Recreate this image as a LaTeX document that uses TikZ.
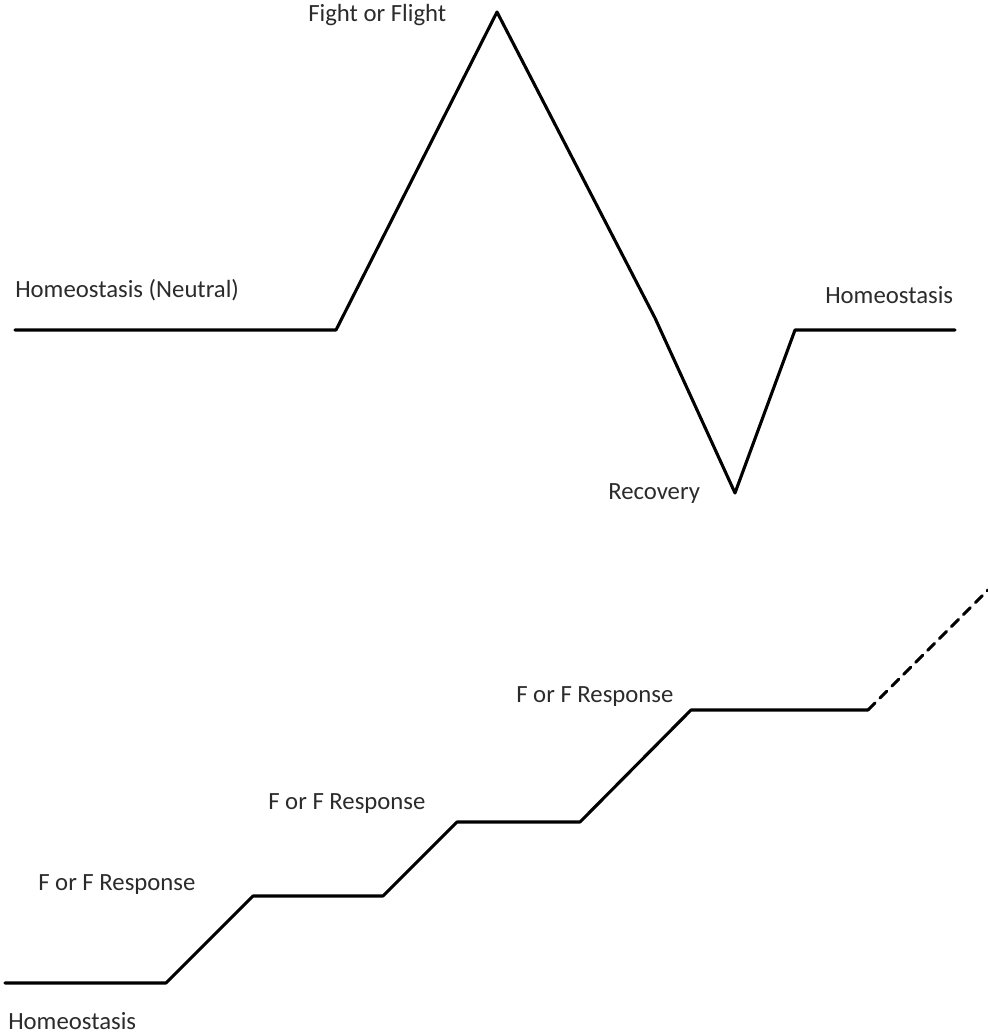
\documentclass[tikz,border=0pt]{standalone}
\usepackage{fontspec}
\setmainfont{Carlito}
\usetikzlibrary{positioning}
\definecolor{grInk}{HTML}{000000}
\definecolor{grText}{HTML}{2B2B2B}
\tikzset{
 stress/.style={font=\fontsize{17.6}{21}\selectfont,line cap=round,line join=round,text=grText},
 level/.style={draw=grInk,line width=2.2pt},
 trend/.style={draw=grInk,line width=2.2pt,dash pattern=on 7pt off 5pt},
 tag/.style={anchor=west,inner sep=0pt}
}

\begin{document}
\begin{tikzpicture}[stress,x=0.25mm,y=-0.25mm]
 \useasboundingbox (0,0) rectangle (988,1036);
 % single stress event
 \coordinate (h0) at (15,330);   \coordinate (h1) at (336,330);
 \coordinate (peak) at (497,12); \coordinate (mid) at (655,318);
 \coordinate (low) at (735,493); \coordinate (h2) at (795,330);
 \coordinate (h3) at (955,330);
 \draw[level] (h0)--(h1)--(peak)--(mid)--(low)--(h2)--(h3);
 \node[tag] (fight) at (308,15) {Fight or Flight};
 \node[tag] (neutral) at (15,290) {Homeostasis (Neutral)};
 \node[tag] (back) at (825,295) {Homeostasis};
 \node[tag] (recov) at (608,494) {Recovery};
 % repeated stress, no recovery
 \coordinate (s0) at (5,983);   \coordinate (s1) at (166,983);
 \coordinate (s2) at (253,896); \coordinate (s3) at (383,896);
 \coordinate (s4) at (457,822); \coordinate (s5) at (580,822);
 \coordinate (s6) at (691,710); \coordinate (s7) at (868,710);
 \coordinate (s8) at (988,590);
 \draw[level] (s0)--(s1)--(s2)--(s3)--(s4)--(s5)--(s6)--(s7);
 \draw[trend] (s7)--(s8);
 \node[tag] (resp1) at (38,885) {F or F Response};
 \node[tag] (resp2) at (268,804) {F or F Response};
 \node[tag] (resp3) at (516,697) {F or F Response};
 \node[tag] (base) at (8,1021) {Homeostasis};
\end{tikzpicture}
\end{document}
